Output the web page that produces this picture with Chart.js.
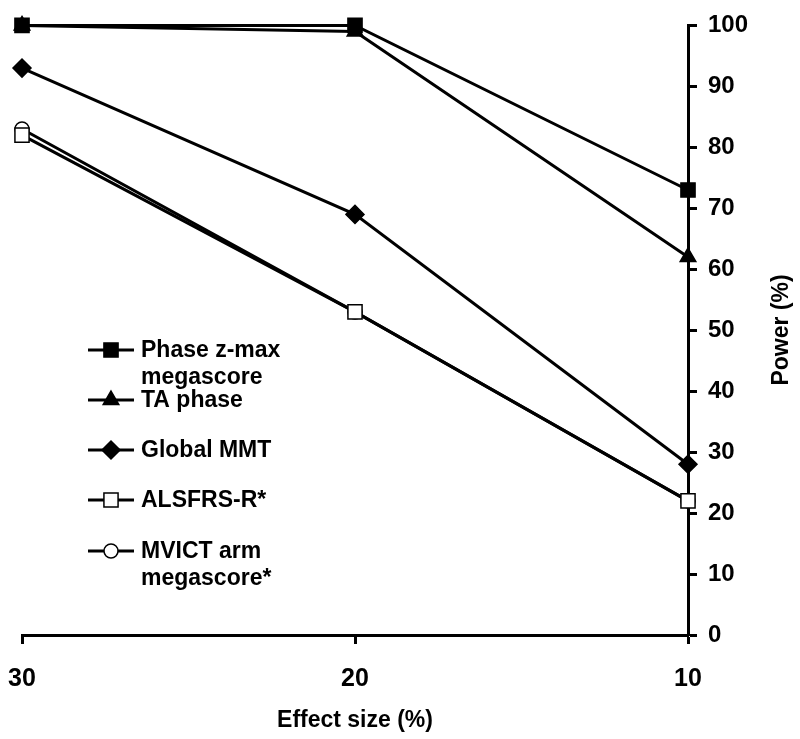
<!DOCTYPE html>
<html>
<head>
<meta charset="utf-8">
<script src="https://cdn.jsdelivr.net/npm/chart.js@4"></script>
<style>
  body { margin: 0; background: #fff; }
  #wrap { width: 800px; height: 739px; }
</style>
</head>
<body>
<div id="wrap"><canvas id="myChart" width="800" height="739"></canvas></div>
<script>
const efecto = ['30', '20', '10'];
const faseZmax = [100, 100, 73];
const taFase = [100, 99, 62];
const globalMMT = [93, 69, 28];
const alsfrs = [82, 53, 22];
const mvict = [83, 53, 22];
const nombres = [["Phase z-max", "megascore"], ["TA phase"], ["Global MMT"], ["ALSFRS-R*"], ["MVICT arm", "megascore*"]];
const tituloY = 'Power (%)';

function serie(nombre, datos, estilo, radio, relleno){
    return {
        label: nombre,
        data: datos,
        borderColor: '#000',
        borderWidth: 3,
        pointStyle: estilo,
        pointRadius: radio,
        pointHoverRadius: radio,
        pointBackgroundColor: relleno,
        pointBorderColor: '#000',
        pointBorderWidth: 1.5,
        clip: false,
        fill: false
    };
}

// leyenda dibujada dentro del area del grafico + titulo del eje y girado
const leyenda = {
    id: 'leyenda',
    afterDraw(chart){
        const ctx = chart.ctx;
        const filas = [350, 400, 450, 500, 551];
        ctx.save();
        chart.data.datasets.forEach((ds, i) => {
            let y = filas[i];
            ctx.strokeStyle = '#000';
            ctx.lineWidth = 3;
            ctx.beginPath();
            ctx.moveTo(88, y);
            ctx.lineTo(134, y);
            ctx.stroke();
            ctx.fillStyle = ds.pointBackgroundColor;
            ctx.lineWidth = 1.5;
            Chart.helpers.drawPoint(ctx, {pointStyle: ds.pointStyle, radius: ds.pointRadius, borderWidth: 1.5, rotation: 0}, 111, y);
            ctx.fillStyle = '#000';
            ctx.font = 'bold 23px "Liberation Sans", Arial';
            ctx.textBaseline = 'middle';
            ds.label.forEach((t, j) => ctx.fillText(t, 141, y + 1 + j * 27));
        });
        ctx.translate(782, 330);
        ctx.rotate(-Math.PI / 2);
        ctx.textAlign = 'center';
        ctx.textBaseline = 'middle';
        ctx.font = 'bold 23px "Liberation Sans", Arial';
        ctx.fillText(tituloY, 0, 0);
        ctx.restore();
    }
};

function graficos(){
    const ctx = document.getElementById('myChart').getContext('2d');
    new Chart(ctx, {
        type: 'line',
        data: {
            labels: efecto,
            datasets: [
                serie(nombres[0], faseZmax, 'rect', 10, '#000'),
                serie(nombres[1], taFase, 'triangle', 9, '#000'),
                serie(nombres[2], globalMMT, 'rectRot', 9, '#000'),
                serie(nombres[3], alsfrs, 'rect', 10, '#fff'),
                serie(nombres[4], mvict, 'circle', 7, '#fff')
            ]
        },
        options: {
            responsive: false,
            animation: false,
            layout: { padding: { left: 22, top: 24, right: 0, bottom: 0 } },
            scales: {
                x: {
                    type: 'category',
                    offset: false,
                    afterFit(s){ s.height = 104; s.paddingLeft = 0; s.paddingRight = 0; },
                    grid: { drawOnChartArea: false, drawTicks: true, tickLength: 9, tickWidth: 3, tickColor: '#000' },
                    border: { color: '#000', width: 3 },
                    ticks: { color: '#000', padding: 20, font: { family: '"Liberation Sans Narrow", "Liberation Sans", Arial', size: 25, weight: 'bold' } },
                    title: { display: true, text: 'Effect size (%)', color: '#000', padding: { top: 8, bottom: 5 }, font: { family: '"Liberation Sans Narrow", "Liberation Sans", Arial', size: 23, weight: 'bold' } }
                },
                y: {
                    position: 'right',
                    min: 0,
                    max: 100,
                    afterFit(s){ s.width = 112; },
                    grid: { drawOnChartArea: false, drawTicks: true, tickLength: 9, tickWidth: 3, tickColor: '#000' },
                    border: { color: '#000', width: 3 },
                    ticks: { stepSize: 10, color: '#000', padding: 11, font: { family: '"Liberation Sans", Arial', size: 24, weight: 'bold' } },
                    title: { display: false }
                }
            },
            plugins: {
                legend: { display: false },
                tooltip: { enabled: false }
            }
        },
        plugins: [leyenda]
    });
}

window.addEventListener('load', graficos);
</script>
</body>
</html>
